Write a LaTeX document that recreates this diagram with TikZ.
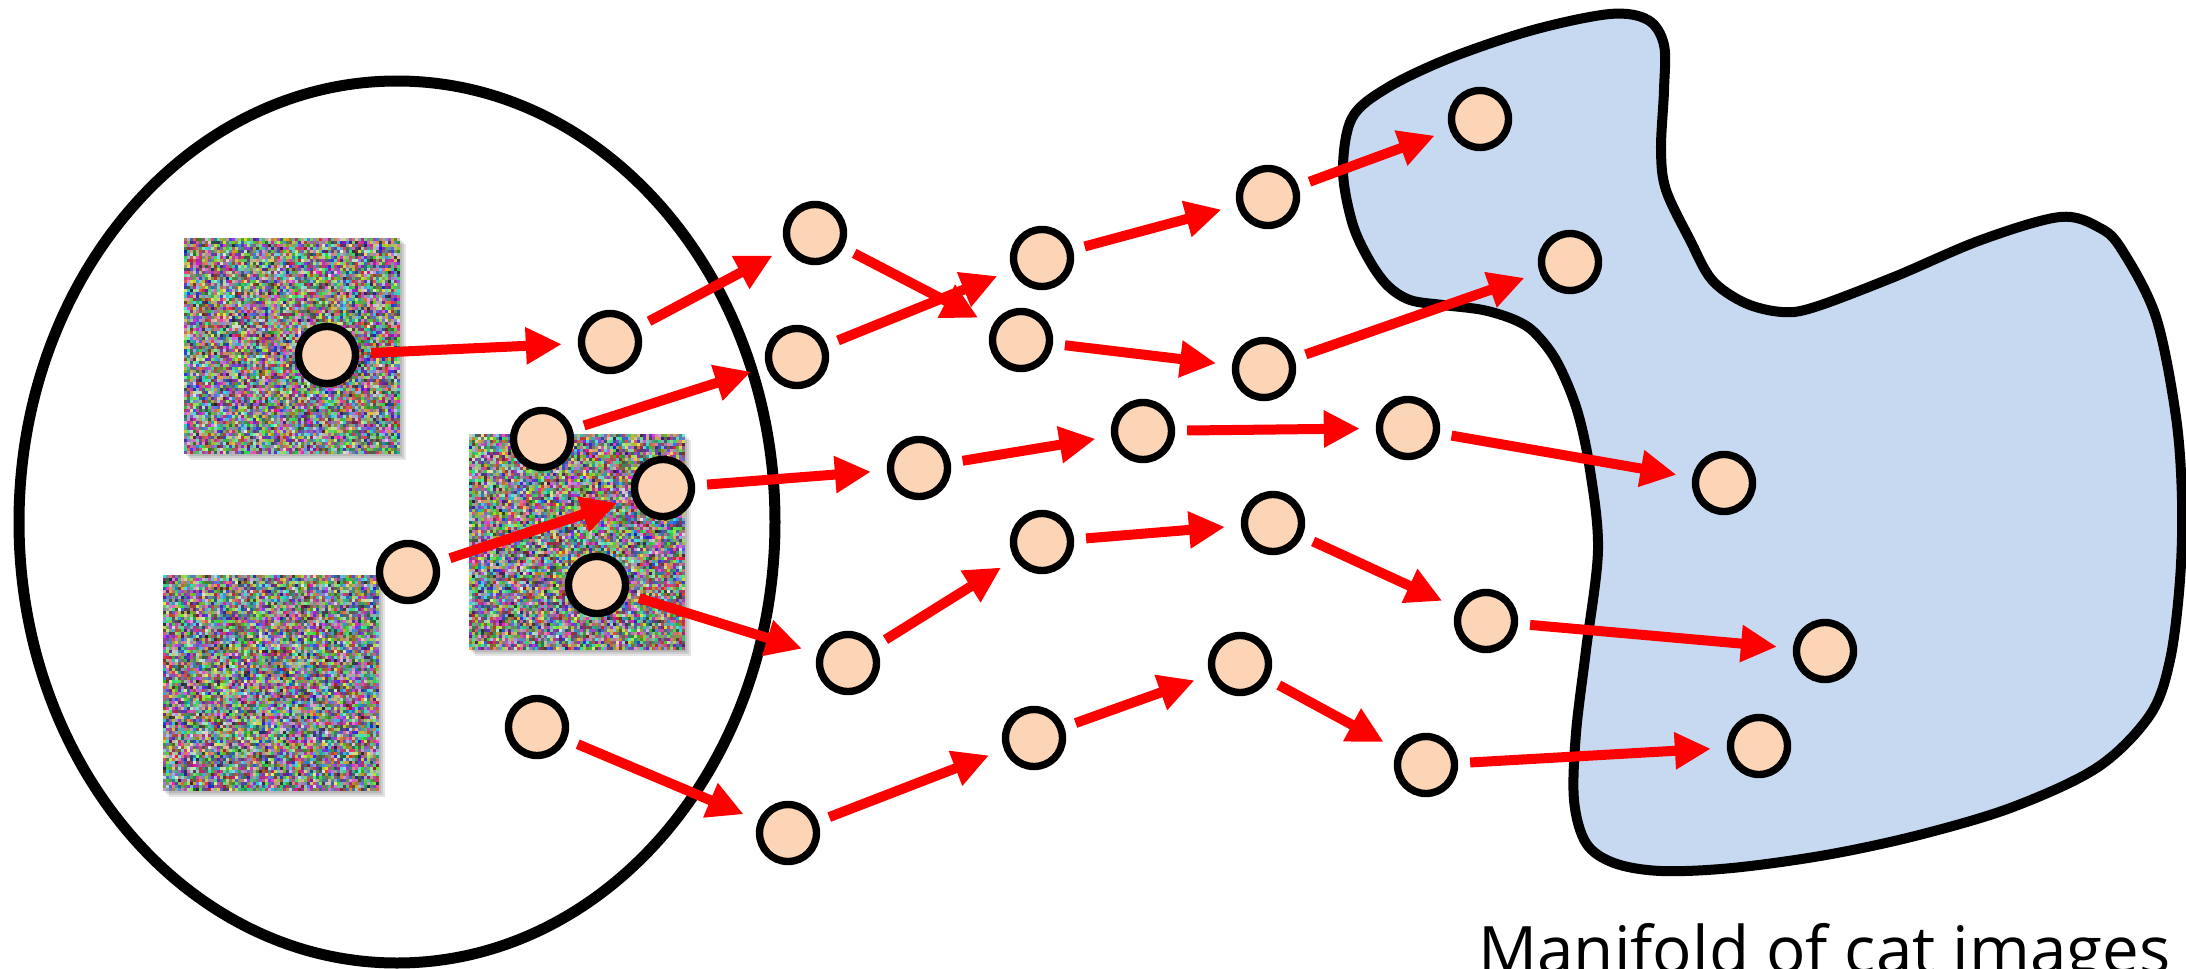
\documentclass[tikz,border=0pt]{standalone}
\usepackage{fontspec}
\setmainfont{Open Sans}
\usetikzlibrary{arrows.meta}

\definecolor{peach}{HTML}{FBD5B5}
\definecolor{manifoldblue}{HTML}{C6D9F0}
\definecolor{flowred}{HTML}{FF0000}

\tikzset{
  latent/.style={circle, draw=black, line width=3.7pt, fill=peach,
    minimum size=28.5pt, inner sep=0pt},
  flow/.style={draw=flowred, line width=5pt,
    -{Triangle[length=18pt,width=17.5pt]}, shorten <=6pt, shorten >=8pt},
  boundary/.style={draw=black, line width=5.5pt},
}

% random-colour noise image with a soft shadow; #1,#2 = top-left corner (px)
% cells are written with system-level commands to keep memory use low
\makeatletter
\newcommand\noisepatch[2]{%
  \foreach \s in {2,4,6}
    \fill[black, opacity=0.1] (#1+\s,#2+\s) rectangle (#1+216+\s,#2+216+\s);
  \begin{pgfscope}%
  \foreach \i in {0,...,71}{%
    \foreach \j in {0,...,71}{%
      \pgfmathrandominteger{\nr}{12}{92}%
      \pgfmathrandominteger{\ng}{12}{92}%
      \pgfmathrandominteger{\nb}{12}{92}%
      \pgfsys@color@rgb@fill{0.\nr}{0.\ng}{0.\nb}%
      \pgf@xa=0.5pt \multiply\pgf@xa by \numexpr#1+3*\i\relax
      \pgf@ya=-0.5pt \multiply\pgf@ya by \numexpr#2+3*\j+3\relax
      \pgf@xb=1.65pt
      \pgfsys@rect{\pgf@xa}{\pgf@ya}{\pgf@xb}{\pgf@xb}%
      \pgfsys@fill
    }%
  }%
  \end{pgfscope}%
}
\makeatother

\begin{document}
\begin{tikzpicture}[x=0.5pt, y=-0.5pt]
\useasboundingbox (0,0) rectangle (2186,969);
\pgfmathsetseed{4217}

% input space
\draw[boundary] (397,522) ellipse [x radius=378, y radius=441];

% noise images
\noisepatch{184}{238}
\noisepatch{163}{575}
\noisepatch{469}{434}

% target manifold
\draw[line width=5pt, fill=manifoldblue] plot[smooth cycle, tension=0.55] coordinates {
  (1343,170) (1352,118) (1387,88) (1450,58) (1533,30) (1610,14) (1648,20)
  (1664,45) (1664,90) (1661,150) (1666,190) (1690,240) (1712,280)
  (1745,303) (1782,312) (1815,307) (1894,277) (1981,240) (2060,217)
  (2100,228) (2122,250) (2156,317) (2176,417) (2182,500) (2180,580)
  (2170,660) (2150,715) (2098,767) (2013,807) (1919,835) (1826,855)
  (1732,868) (1661,871) (1614,863) (1586,843) (1574,800) (1576,733)
  (1586,650) (1598,550) (1590,470) (1577,410) (1557,362) (1535,333)
  (1515,320) (1483,310) (1443,305) (1410,300) (1387,285) (1368,258)
  (1352,222)};

% sample points
\node[latent] (c1)  at (327,355) {};
\node[latent] (c2)  at (610,342) {};
\node[latent] (c3)  at (542,439) {};
\node[latent] (c4)  at (663,488) {};
\node[latent] (c5)  at (408,572) {};
\node[latent] (c6)  at (597,585) {};
\node[latent] (c7)  at (537,727) {};
\node[latent] (c8)  at (815,233) {};
\node[latent] (c9)  at (797,357) {};
\node[latent] (c10) at (1042,258) {};
\node[latent] (c11) at (1021,340) {};
\node[latent] (c12) at (919,468) {};
\node[latent] (c13) at (1143,431) {};
\node[latent] (c14) at (1268,197) {};
\node[latent] (c15) at (1264,369) {};
\node[latent] (c16) at (1408,428) {};
\node[latent] (c17) at (1042,542) {};
\node[latent] (c18) at (1273,523) {};
\node[latent] (c19) at (848,663) {};
\node[latent] (c20) at (1034,738) {};
\node[latent] (c21) at (1240,664) {};
\node[latent] (c22) at (1486,621) {};
\node[latent] (c23) at (1426,765) {};
\node[latent] (c24) at (788,833) {};
\node[latent] (c25) at (1480,119) {};
\node[latent] (c26) at (1570,262) {};
\node[latent] (c27) at (1724,483) {};
\node[latent] (c28) at (1825,651) {};
\node[latent] (c29) at (1759,746) {};

% trajectories
\foreach \a/\b in {c1/c2, c2/c8, c3/c9, c5/c4, c6/c19, c7/c24,
                   c8/c11, c9/c10, c4/c12, c19/c17, c24/c20,
                   c10/c14, c11/c15, c12/c13, c17/c18, c20/c21,
                   c14/c25, c15/c26, c13/c16, c18/c22, c21/c23,
                   c16/c27, c22/c28, c23/c29}
  \draw[flow] (\a) -- (\b);

% caption
\node[anchor=base west, inner sep=0pt] (caption) at (1478,973)
  {\resizebox{346pt}{!}{\fontsize{34}{40}\selectfont Manifold of cat images}};
\end{tikzpicture}
\end{document}
